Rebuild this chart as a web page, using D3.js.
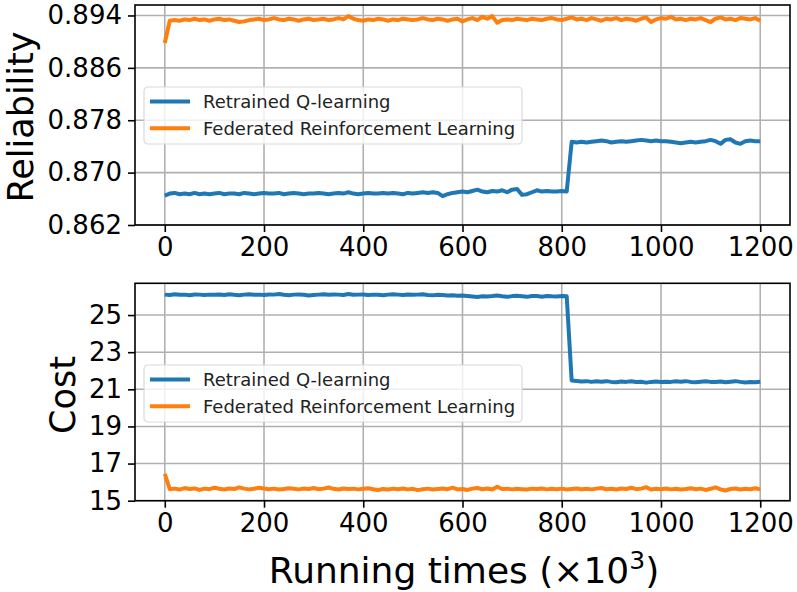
<!DOCTYPE html>
<html>
<head>
<meta charset="utf-8">
<script src="https://cdn.jsdelivr.net/npm/d3@7"></script>
<style>
  body { margin: 0; background: #fff; }
  svg { display: block; font-family: "DejaVu Sans", sans-serif; }
</style>
</head>
<body>
<div id="container"></div>
<script>
/* reliability + cost, two stacked panels */

/* DATA */
const runs = [0,10,20,30,40,50,60,70,80,90,100,110,120,130,140,150,160,170,180,190,
  200,210,220,230,240,250,260,270,280,290,300,310,320,330,340,350,360,370,380,390,
  400,410,420,430,440,450,460,470,480,490,500,510,520,530,540,550,560,570,580,590,
  600,610,620,630,640,650,660,670,680,690,700,710,720,730,740,750,760,770,780,790,
  800,810,820,830,840,850,860,870,880,890,900,910,920,930,940,950,960,970,980,990,
  1000,1010,1020,1030,1040,1050,1060,1070,1080,1090,1100,1110,1120,1130,1140,1150,1160,1170,1180,1190,1200];

const seriesNames = ["Retrained Q-learning", "Federated Reinforcement Learning"];

const relQ = [0.8665,0.8668,0.8669,0.8667,0.8668,0.8667,0.8669,0.8667,0.8668,0.8667,
  0.8668,0.8669,0.8667,0.8668,0.8668,0.8667,0.8669,0.8668,0.8667,0.8668,
  0.8669,0.8668,0.8668,0.8669,0.8667,0.8668,0.8669,0.8668,0.8667,0.8668,
  0.8668,0.8669,0.8668,0.8667,0.8668,0.8669,0.8668,0.8670,0.8668,0.8667,
  0.8668,0.8669,0.8668,0.8668,0.8669,0.8668,0.8669,0.8668,0.8667,0.8669,
  0.8668,0.8669,0.8670,0.8669,0.8670,0.8669,0.8664,0.8667,0.8669,0.8670,
  0.8671,0.8670,0.8672,0.8674,0.8671,0.8670,0.8672,0.8671,0.8673,0.8670,
  0.8674,0.8675,0.8666,0.8667,0.8670,0.8673,0.8671,0.8672,0.8671,0.8671,
  0.8672,0.8671,0.8747,0.8746,0.8747,0.8746,0.8747,0.8748,0.8749,0.8748,
  0.8746,0.8747,0.8748,0.8747,0.8748,0.8749,0.8750,0.8749,0.8748,0.8749,
  0.8748,0.8748,0.8747,0.8746,0.8745,0.8746,0.8747,0.8746,0.8747,0.8748,
  0.8750,0.8748,0.8744,0.8750,0.8751,0.8746,0.8744,0.8748,0.8749,0.8748,0.8748];

const relFRL = [0.8898,0.8932,0.8933,0.8932,0.8934,0.8933,0.8935,0.8933,0.8934,0.8932,
  0.8934,0.8935,0.8933,0.8934,0.8932,0.8930,0.8931,0.8933,0.8934,0.8935,
  0.8933,0.8934,0.8936,0.8934,0.8933,0.8935,0.8934,0.8932,0.8934,0.8935,
  0.8933,0.8934,0.8935,0.8933,0.8934,0.8936,0.8934,0.8939,0.8935,0.8933,
  0.8932,0.8934,0.8933,0.8935,0.8934,0.8932,0.8934,0.8933,0.8935,0.8934,
  0.8933,0.8934,0.8936,0.8934,0.8933,0.8935,0.8934,0.8932,0.8934,0.8935,
  0.8931,0.8934,0.8936,0.8933,0.8938,0.8935,0.8939,0.8929,0.8933,0.8934,
  0.8933,0.8935,0.8934,0.8933,0.8935,0.8934,0.8933,0.8935,0.8936,0.8934,
  0.8933,0.8935,0.8937,0.8934,0.8935,0.8933,0.8936,0.8934,0.8932,0.8935,
  0.8934,0.8936,0.8933,0.8935,0.8934,0.8932,0.8935,0.8937,0.8930,0.8934,
  0.8936,0.8935,0.8938,0.8934,0.8935,0.8933,0.8935,0.8934,0.8936,0.8933,
  0.8930,0.8935,0.8937,0.8934,0.8935,0.8933,0.8936,0.8935,0.8934,0.8936,0.8932];

const costQ = [26.10,26.08,26.12,26.09,26.10,26.07,26.11,26.10,26.08,26.10,
  26.09,26.11,26.08,26.12,26.09,26.07,26.10,26.12,26.09,26.10,
  26.08,26.11,26.10,26.13,26.09,26.07,26.10,26.11,26.09,26.05,
  26.08,26.10,26.12,26.09,26.11,26.10,26.08,26.13,26.09,26.10,
  26.11,26.08,26.10,26.09,26.07,26.10,26.12,26.10,26.08,26.11,
  26.09,26.10,26.12,26.08,26.06,26.09,26.08,26.05,26.07,26.04,
  26.05,26.03,26.00,25.97,26.01,26.00,26.02,26.05,26.01,25.98,
  26.02,26.04,26.01,25.98,26.03,26.02,25.99,26.03,26.01,26.00,
  26.02,26.01,21.48,21.45,21.42,21.44,21.40,21.43,21.41,21.44,
  21.40,21.38,21.42,21.40,21.43,21.39,21.41,21.36,21.40,21.42,
  21.39,21.41,21.40,21.43,21.41,21.44,21.40,21.38,21.41,21.43,
  21.40,21.39,21.42,21.38,21.41,21.44,21.40,21.37,21.39,21.38,21.41];

const costFRL = [16.45,15.62,15.65,15.60,15.68,15.63,15.66,15.58,15.65,15.62,
  15.70,15.64,15.60,15.66,15.63,15.72,15.65,15.61,15.64,15.70,
  15.66,15.62,15.65,15.60,15.63,15.67,15.64,15.61,15.66,15.63,
  15.68,15.62,15.65,15.71,15.64,15.60,15.66,15.63,15.65,15.61,
  15.64,15.67,15.62,15.58,15.63,15.60,15.65,15.62,15.66,15.61,
  15.64,15.57,15.62,15.65,15.60,15.63,15.66,15.62,15.70,15.61,
  15.63,15.58,15.65,15.68,15.62,15.66,15.60,15.75,15.63,15.65,
  15.61,15.64,15.62,15.60,15.65,15.63,15.66,15.61,15.64,15.62,
  15.65,15.60,15.63,15.66,15.62,15.64,15.61,15.65,15.68,15.62,
  15.64,15.60,15.66,15.63,15.70,15.62,15.65,15.73,15.60,15.64,
  15.62,15.66,15.61,15.64,15.60,15.63,15.67,15.62,15.65,15.58,
  15.64,15.72,15.61,15.55,15.63,15.66,15.60,15.64,15.62,15.67,15.61];

const xTicks = [0, 200, 400, 600, 800, 1000, 1200];
const relTicks = [0.862, 0.870, 0.878, 0.886, 0.894];
const costTicks = [15, 17, 19, 21, 23, 25];

/* CONSTANTS AND GLOBALS */
const width = 797, height = 592;
const colors = ["#1f77b4", "#ff7f0e"];
const gridColor = "#b0b0b0";

const svg = d3.select("#container")
  .append("svg")
  .attr("width", width)
  .attr("height", height);

// shared x scale (matplotlib style 5% margins)
const xScale = d3.scaleLinear()
  .domain([-60, 1260])
  .range([135, 790]);

// one function draws a whole panel
function drawPanel(cfg) {
  const yScale = d3.scaleLinear()
    .domain(cfg.yDomain)
    .range([cfg.bottom, cfg.top]);

  const g = svg.append("g");

  // GRID
  g.selectAll(".vgrid")
    .data(xTicks)
    .join("line")
    .attr("x1", d => xScale(d)).attr("x2", d => xScale(d))
    .attr("y1", cfg.top).attr("y2", cfg.bottom)
    .attr("stroke", gridColor).attr("stroke-width", 1.6);

  g.selectAll(".hgrid")
    .data(cfg.yTicks)
    .join("line")
    .attr("x1", 135).attr("x2", 790)
    .attr("y1", d => yScale(d)).attr("y2", d => yScale(d))
    .attr("stroke", gridColor).attr("stroke-width", 1.6);

  // LINES
  const lineGen = d3.line()
    .x((d, i) => xScale(runs[i]))
    .y(d => yScale(d));

  g.selectAll(".line")
    .data(cfg.series)
    .join("path")
    .attr("d", d => lineGen(d))
    .attr("fill", "none")
    .attr("stroke", (d, i) => colors[i])
    .attr("stroke-width", 4)
    .attr("stroke-linejoin", "round");

  // AXES
  const xAxis = d3.axisBottom(xScale)
    .tickValues(xTicks)
    .tickSize(7)
    .tickPadding(6)
    .tickFormat(d3.format("d"));
  g.append("g")
    .attr("transform", `translate(0,${cfg.bottom})`)
    .call(xAxis)
    .call(a => a.select(".domain").remove())
    .call(a => a.selectAll("line").attr("stroke", "#000").attr("stroke-width", 1.6))
    .call(a => a.selectAll("text").attr("fill", "#000").style("font-size", "26px").style("font-family", "DejaVu Sans"));

  const yAxis = d3.axisLeft(yScale)
    .tickValues(cfg.yTicks)
    .tickSize(7)
    .tickPadding(6)
    .tickFormat(cfg.fmt);
  g.append("g")
    .attr("transform", `translate(135,0)`)
    .call(yAxis)
    .call(a => a.select(".domain").remove())
    .call(a => a.selectAll("line").attr("stroke", "#000").attr("stroke-width", 1.6))
    .call(a => a.selectAll("text").attr("fill", "#000").style("font-size", "26px").style("font-family", "DejaVu Sans"));

  // FRAME
  g.append("rect")
    .attr("x", 135).attr("y", cfg.top)
    .attr("width", 790 - 135).attr("height", cfg.bottom - cfg.top)
    .attr("fill", "none").attr("stroke", "#000").attr("stroke-width", 1.6);

  // Y LABEL
  g.append("text")
    .attr("transform", `translate(${cfg.labelX},${cfg.labelY}) rotate(-90)`)
    .attr("text-anchor", "middle")
    .style("font-size", "35px")
    .text(cfg.label);

  // LEGEND
  const leg = g.append("g").attr("transform", `translate(144,${cfg.legendTop})`);
  leg.append("rect")
    .attr("width", 378).attr("height", 57)
    .attr("rx", 4)
    .attr("fill", "#fff").attr("fill-opacity", 0.8)
    .attr("stroke", "#d9d9d9").attr("stroke-width", 1.2);
  const rows = leg.selectAll(".row")
    .data(seriesNames)
    .join("g")
    .attr("transform", (d, i) => `translate(0,${14.5 + i * 26.7})`);
  rows.append("line")
    .attr("x1", 6).attr("x2", 46)
    .attr("stroke", (d, i) => colors[i])
    .attr("stroke-width", 4);
  rows.append("text")
    .attr("x", 59).attr("dy", "0.35em")
    .style("font-size", "18px")
    .attr("fill", "#222")
    .text(d => d);
}

drawPanel({
  top: 5, bottom: 225,
  yDomain: [0.862, 0.8956],
  yTicks: relTicks,
  fmt: d3.format(".3f"),
  series: [relQ, relFRL],
  label: "Reliability",
  labelX: 33, labelY: 117,
  legendTop: 87
});

drawPanel({
  top: 283.3, bottom: 500.7,
  yDomain: [15, 26.71],
  yTicks: costTicks,
  fmt: d3.format("d"),
  series: [costQ, costFRL],
  label: "Cost",
  labelX: 75, labelY: 395,
  legendTop: 365
});

// X LABEL
svg.append("text")
  .attr("x", 464).attr("y", 583)
  .attr("text-anchor", "middle")
  .style("font-size", "36px")
  .call(t => {
    t.append("tspan").text("Running times (\u00d710");
    t.append("tspan").attr("dy", -14).style("font-size", "25px").text("3");
    t.append("tspan").attr("dy", 14).text(")");
  });
</script>
</body>
</html>
